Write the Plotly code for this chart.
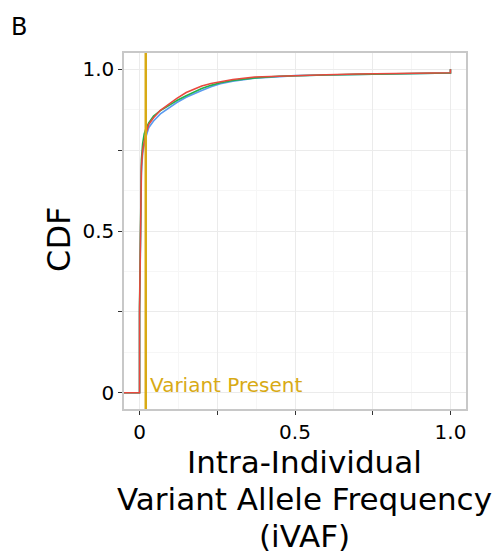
import plotly.graph_objects as go

# ECDF curves (iVAF vs cumulative fraction)
red_x = [-0.06, 0, 0, 0.003, 0.006, 0.01, 0.015, 0.02, 0.03, 0.045, 0.067, 0.09, 0.12, 0.15,
         0.18, 0.2, 0.23, 0.26, 0.3, 0.37, 0.45, 0.5, 0.6, 0.7, 0.8, 0.9, 0.99, 1.0, 1.0]
red_y = [0, 0, 0.25, 0.55, 0.70, 0.75, 0.78, 0.80, 0.83, 0.85, 0.873, 0.89, 0.91, 0.928,
         0.94, 0.948, 0.956, 0.962, 0.968, 0.976, 0.979, 0.981, 0.983, 0.985, 0.986, 0.987, 0.989, 0.989, 1.0]

green_x = [-0.06, 0, 0, 0.003, 0.006, 0.01, 0.015, 0.02, 0.03, 0.045, 0.067, 0.09, 0.12, 0.15,
           0.18, 0.2, 0.23, 0.26, 0.3, 0.37, 0.45, 0.5, 0.6, 0.7, 0.8, 0.9, 0.99, 1.0, 1.0]
green_y = [0, 0, 0.27, 0.58, 0.72, 0.77, 0.80, 0.815, 0.835, 0.855, 0.872, 0.885, 0.903, 0.918,
           0.932, 0.94, 0.95, 0.958, 0.965, 0.973, 0.978, 0.98, 0.982, 0.984, 0.985, 0.986, 0.988, 0.988, 1.0]

blue_x = [-0.06, 0, 0, 0.003, 0.006, 0.01, 0.015, 0.02, 0.03, 0.045, 0.067, 0.09, 0.12, 0.15,
          0.18, 0.2, 0.23, 0.26, 0.3, 0.37, 0.45, 0.5, 0.6, 0.7, 0.8, 0.9, 0.99, 1.0, 1.0]
blue_y = [0, 0, 0.24, 0.52, 0.68, 0.74, 0.77, 0.79, 0.82, 0.84, 0.862, 0.878, 0.897, 0.913,
          0.927, 0.934, 0.946, 0.955, 0.963, 0.972, 0.977, 0.98, 0.982, 0.984, 0.985, 0.986, 0.988, 0.988, 1.0]

variant_cutoff = 0.02
tick_vals = [0, 0.25, 0.5, 0.75, 1.0]
tick_text = ["0", "", "0.5", "", "1.0"]
minor_vals = [0.125, 0.375, 0.625, 0.875]

FONT = "DejaVu Sans"
GOLD = "#D8AA14"

fig = go.Figure()
fig.add_trace(go.Scatter(x=blue_x, y=blue_y, mode="lines", line=dict(color="#5A9BEF", width=1.6)))
fig.add_trace(go.Scatter(x=green_x, y=green_y, mode="lines", line=dict(color="#22B14C", width=1.6)))
fig.add_trace(go.Scatter(x=red_x, y=red_y, mode="lines", line=dict(color="#E8483E", width=1.6)))

# vertical cut-off line
fig.add_vline(x=variant_cutoff, line=dict(color=GOLD, width=2.5))

axis_common = dict(
    tickvals=tick_vals, ticktext=tick_text,
    ticks="outside", ticklen=4, tickcolor="#333333", tickwidth=1,
    showgrid=True, gridcolor="#EBEBEB", gridwidth=1.1,
    minor=dict(tickvals=minor_vals, showgrid=True, gridcolor="#F6F6F6", gridwidth=0.8, ticks=""),
    zeroline=False, showline=True, linecolor="#C8C8C8", linewidth=1.5, mirror=True,
    tickfont=dict(family=FONT, size=20, color="#000000"),
)

fig.update_xaxes(range=[-0.05, 1.05], **axis_common)
fig.update_yaxes(range=[-0.05, 1.05], **axis_common)

annotations = [
    dict(text="B", x=-0.306, y=1.073, xref="paper", yref="paper", showarrow=False,
         xanchor="center", yanchor="middle", font=dict(family=FONT, size=24, color="#000000")),
    dict(text="CDF", x=-0.19, y=0.475, xref="paper", yref="paper", showarrow=False,
         textangle=-90, xanchor="center", yanchor="middle", font=dict(family=FONT, size=32, color="#000000")),
    dict(text="Variant Present", x=variant_cutoff + 0.007, y=0.025, xref="x", yref="y", showarrow=False,
         xanchor="left", yanchor="middle", font=dict(family=FONT, size=20, color=GOLD)),
]
x_title_lines = ["Intra-Individual", "Variant Allele Frequency", "(iVAF)"]
x_title_y = [-0.15, -0.252, -0.357]
for txt, yy in zip(x_title_lines, x_title_y):
    annotations.append(dict(text=txt, x=0.529, y=yy, xref="paper", yref="paper", showarrow=False,
                            xanchor="center", yanchor="middle",
                            font=dict(family=FONT, size=31, color="#000000")))

# page adds an 8px body margin, so the figure is 8px smaller and the margins shifted
fig.update_layout(
    width=495, height=546,
    margin=dict(l=116, r=37, t=45, b=145),
    paper_bgcolor="white", plot_bgcolor="white",
    showlegend=False,
    annotations=annotations,
    font=dict(family=FONT),
)

fig.write_html("out.html")
